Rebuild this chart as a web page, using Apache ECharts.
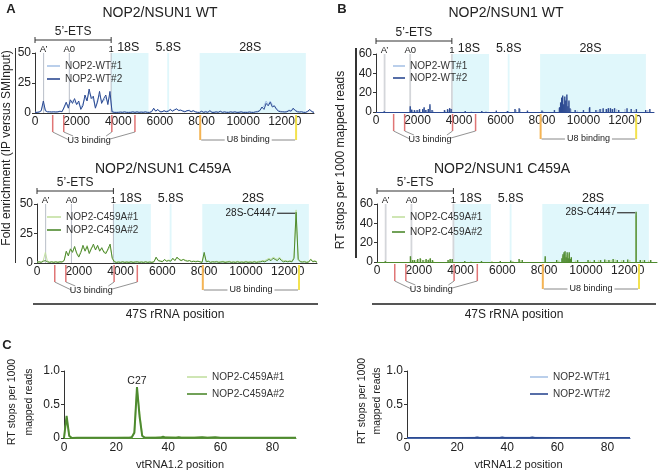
<!DOCTYPE html>
<html><head><meta charset="utf-8">
<script src="https://cdn.jsdelivr.net/npm/echarts@6/dist/echarts.min.js"></script>
<style>html,body{margin:0;padding:0;background:#fff}#wrap{position:relative;width:661px;height:472px}#c{width:661px;height:472px}
.bar{position:absolute;pointer-events:none}</style>
</head><body><div id="wrap"><div id="c"></div>
<div class="bar" style="left:14.5px;top:48px;width:1.5px;height:215px;background:#333"></div>
<div class="bar" style="left:355px;top:48px;width:1.5px;height:210px;background:#333"></div>
<div class="bar" style="left:33px;top:303px;width:285px;height:2px;background:#555"></div>
<div class="bar" style="left:372px;top:303px;width:284px;height:2px;background:#555"></div>
</div>
<script>
const FONT = "'Liberation Sans', Arial, sans-serif";

// ---- 47S rRNA fold enrichment (values every 100 nt, position 0..13400) ----
const rrnaStep = 100;
const wtFold1 = [0.6,0.7,1,1.5,8,1.5,1,0.8,1,0.8, 1,0.8,1.2,1.5,4,8,6,9,10,9, 8,8,4,8,12,11,17,14,11,5, 11,15,10,10,13,9,15,1.5,0.8,0.6,
  0.8,0.6,1,0.6,0.8,0.6,1,0.6,0.8,0.6, 0.8,0.6,1,0.6,0.8,0.6,1.5,3,2,2.5, 1.5,1,1.5,1.5,2,2.5,2,3,3,2.5, 2,2,1.5,1.5,2.5,1.5,1.5,1,0.8,0.6,
  1,0.8,1.5,0.8,1.5,0.8,0.8,0.6,1,1, 0.8,0.6,1,0.8,0.6,1,0.8,0.6,1,0.8, 0.6,0.8,0.6,1,0.8,0.6,0.8,1.5,2.5,4, 6,10,7,10,7,5,4,2,1.5,1,
  1,1.5,2.5,2,3,2.5,1.5,1,1.2,0.8, 0.6,1,2,1.5,0.6];
const wtFold2 = [0.5,0.5,0.8,2,10,2,1,1,0.8,1, 0.8,1,1.5,1,5,9,4,11,8,12, 7,10,3,6,15,10,20,12,14,4, 9,18,8,12,15,7,18,1,0.5,0.5,
  0.5,0.8,0.5,1,0.5,0.5,0.5,1,0.5,1, 0.5,0.8,0.5,1,0.5,0.5,1,4,1.5,3, 1,1,2,1,1.5,3,1.5,2.5,3.5,2, 2.5,1.5,1,2,2,1,2,1,0.5,0.5,
  1.5,0.5,1,0.5,2,0.5,0.5,1,0.5,1.5, 0.5,1,0.5,0.5,1,0.5,1,0.5,0.5,1, 0.5,0.5,0.5,0.8,0.5,0.5,1,1,2,5, 3,8,6,9,5,6,3,1.5,1,1,
  0.8,1,2,1.5,4,2,1,0.8,1,0.5, 0.5,1.5,3,1,0.5];
const mutFold1 = [0.8,1,1,2,9,1.5,1,0.8,1,0.8, 1,0.8,1,2.5,9,7,11,10,13,9, 6,10,13,11,15,9,13,14,12,14, 11,12,10,9,11,14,5,1.5,0.8,1,
  0.8,1,0.8,1,0.8,1,0.8,1,0.8,1, 1,0.8,1,0.8,1,0.8,1.5,4,2.5,2, 1.5,2.5,2,2.5,2,3.5,2.5,4,3.5,2.5, 3,2.5,2,2,1.5,1.5,1.5,1.5,1,0.8,
  7,1.5,1.5,1,1,1,1.5,1,1,1.5, 1,1,1.5,1,1,1,1.5,1,1,1, 1.5,1,1,1,1.5,1,1.5,1.5,2,2, 3,4,3,5,4,3,5,3,2,2,
  1.5,2,1.5,5,45,4,1.5,1,1.5,1, 1,3.5,1.5,2,1];
const mutFold2 = [0.5,1,0.5,1.5,2,1,0.5,1,0.5,1, 0.5,1,0.8,2,10,6,12,9,14,8, 5,9,15,10,14,8,12,16,11,15, 10,13,9,8,12,16,4,1,0.5,0.8,
  0.5,1,0.5,0.8,0.5,1,0.5,0.8,1,0.5, 0.8,0.5,1,0.5,0.8,0.5,1,5,2,1.5, 1,3,1.5,2,1.5,4,2,5,3,2, 3,2,1.5,2,1,1.5,1,1.5,1,0.5,
  9,1,1.5,0.5,1,0.8,1,0.5,0.8,1, 0.5,0.8,1,0.5,0.8,0.5,1,0.5,0.8,0.5, 1,0.5,0.8,0.5,1,0.5,0.8,1,1.5,1, 2,3,2,4,3,2,4,2,1,1.5,
  1,1.5,1,4,43,3,1,0.8,1,0.5, 0.8,3,1,1.5,0.5];

// ---- RT stops per 1000 mapped reads (spikes) ----
const wtStopPos2 = [400,1650,1720,1850,1980,2100,2250,2320,2400,2520,2600,2700,3300,3450,3550,3620,4300,5100,5800,6350,6700,6900,7300,8000,8600,8850,8900,8950,9000,9050,9100,9150,9200,9250,9300,9350,9600,10000,10300,10600,10800,10950,11100,11200,11300,11400,11500,11700,12100,12300,12550,13000,13200];
const wtStopVal2 = [0.8,6,2.5,2,2,3,3,5,2,3,8,2,2,3,4,3,1,1,1.5,1,3,4,1.5,1.5,2,5,10,15,17,8,16,12,18,6,12,4,2,2,5,2,3,4,3,4,4,3,4,2,4,3,3,2,3];
const wtStopPos1 = [400,1650,1750,1900,2050,2300,2450,2600,2750,3350,3500,3650,4600,5300,6300,6750,6950,8050,8800,8900,8950,9000,9100,9150,9200,9300,9400,9700,10250,10700,10900,11150,11350,11600,12000,12450,13100];
const wtStopVal1 = [1,4,2,1.5,2,4,2,6,1.5,1.5,2,3,1,1,1,2,3,1,4,8,12,14,13,9,15,10,3,1.5,4,2,3,3,3,3,3,2,2];
const mutStopPos2 = [400,1600,1700,1800,1950,2070,2200,2350,2450,2550,2650,3400,3500,3600,4200,5000,5900,6400,6800,6950,8050,8600,8850,8900,8950,9000,9050,9100,9150,9200,9250,9300,9600,10100,10400,10700,10900,11100,11300,11500,11800,12000,12400,12600,12800,13100];
const mutStopVal2 = [0.8,6,2,2,3,4,2,3,2,4,2,2,3,3,1,1,1,1.5,3,2,6,2,4,8,10,11,5,10,4,10,3,5,2,2,2,2,2.5,2,3,2,2,2.5,52,2,2,2];
const mutStopPos1 = [400,1620,1750,1900,2100,2300,2500,2700,3450,3600,4500,5500,6500,6850,8050,8700,8880,8980,9080,9180,9280,9500,10200,10600,11000,11200,11400,11700,12100,12400,12700,13000];
const mutStopVal1 = [1,4,2,2,3,2,3,1.5,2,2,1,1,1,2,4,1.5,6,8,7,8,4,1.5,1.5,2,2,2,2.5,2,2,48,2,1.5];

// ---- vtRNA1.2 RT stops ----
const vtMutPos2 = [0,1,2,3,5,10,15,20,25,26,27,28,29,30,31,35,37,38,39,43,44,45,50,53,55,58,60,70,80,89];
const vtMutVal2 = [0,0.33,0.03,0,0.005,0.003,0.005,0.004,0.005,0.01,0.08,0.76,0.32,0.03,0.005,0.005,0.006,0.018,0.006,0.005,0.012,0.005,0.004,0.012,0.005,0.01,0.004,0.003,0.003,0.003];
const vtMutPos1 = [0,1,2,3,10,20,26,27,28,29,30,31,38,44,53,60,70,80,89];
const vtMutVal1 = [0,0.3,0.04,0.004,0.004,0.004,0.01,0.1,0.72,0.36,0.04,0.006,0.012,0.01,0.01,0.004,0.004,0.003,0.003];
const vtWtPos2 = [0,10,20,27,28,29,37,38,39,49,50,51,60,70,80,89];
const vtWtVal2 = [0.003,0.003,0.004,0.004,0.012,0.004,0.004,0.01,0.004,0.004,0.012,0.004,0.003,0.003,0.003,0.003];
const vtWtPos1 = [0,10,20,28,38,50,60,70,80,89];
const vtWtVal1 = [0.004,0.004,0.004,0.008,0.008,0.008,0.004,0.004,0.004,0.004];

// ---- tick values ----
const foldTicks = [0,25,50];
const stopTicks = [0,20,40,60];
const vtTicks = [0,0.5,1];

// ---- annotations (47S coordinates) ----
const etsEnd = 3657;
const siteNames = ['A\u2019','A0','1'];
const sitePos = [414,1648,3657];
const regionNames = ['18S','5.8S','28S'];
const regionStart = [3657,6350,7910];
const regionEnd = [5450,6440,13010];
const regionLabelPos = [4480,6400,10340];
const u3Pos = [850,1380,3690,4800];
const u3LabelPos = 2600;
const u8Pos = [7935,12540];
const u8LabelPos = 10240;
const c4447Pos = 12400;

const C = {wt1:'#a9c3e6', wt2:'#2c4a92', mut1:'#c3e0a2', mut2:'#4e8a2f', wtB1:'#b9c9de', shade:'rgba(160,232,242,0.33)'};

const chart = echarts.init(document.getElementById('c'), null, {renderer:'canvas', width:661, height:472});
const lineData = vals => vals.map((v,i)=>[i*rrnaStep, v]);
const pairData = (pos, vals) => pos.map((p,i)=>[p, vals[i]]);
const shadeArea = {silent:true, itemStyle:{color:C.shade}, data: regionStart.map((s,k)=>[{xAxis:s},{xAxis:regionEnd[k]}])};

const grids = [
  {left:35, top:53, width:279, height:60},
  {left:37, top:204, width:280, height:59},
  {left:376, top:54, width:278, height:58},
  {left:377, top:204, width:280, height:58},
  {left:64, top:371, width:232, height:67},
  {left:407, top:371, width:223, height:67}
];
function rrnaX(i, axisColor){ return {type:'value', gridIndex:i, min:0, max:13400, interval:2000,
  axisLine:{lineStyle:{color:axisColor||'#333'}}, axisTick:{show:false}, splitLine:{show:false},
  axisLabel:{fontSize:12, margin:3, color:'#222', fontFamily:FONT, formatter:v=> (v%2000===0? String(v):'')}}; }
function yAx(i, ticks, fmt){ const max = ticks[ticks.length-1]; const a = {type:'value', gridIndex:i, min:0, max, interval:ticks[1],
  axisLine:{show:true, lineStyle:{color:'#333'}}, axisTick:{show:true, length:3, lineStyle:{color:'#333'}}, splitLine:{show:false},
  axisLabel:{show:true, fontSize:12, margin:4, color:'#222', fontFamily:FONT}};
  if (fmt) a.axisLabel.formatter = fmt; return a; }
function vtX(i, axisColor){ return {type:'value', gridIndex:i, min:0, max:89, interval:20,
  axisLine:{lineStyle:{color:axisColor}}, axisTick:{show:false}, splitLine:{show:false},
  axisLabel:{fontSize:12, margin:4, color:'#222', fontFamily:FONT, formatter:v=> (v%20===0? String(v):'')},
  name:'vtRNA1.2 position', nameLocation:'middle', nameGap:21, nameTextStyle:{fontSize:11, fontFamily:FONT, color:'#222'}}; }

const ln = (name, x, data, color, w, extra) => Object.assign({type:'line', name, xAxisIndex:x, yAxisIndex:x, data, symbol:'none',
  color, lineStyle:{color, width:w}, animation:false}, extra||{});
const br = (name, x, data, color, extra) => Object.assign({type:'bar', name, xAxisIndex:x, yAxisIndex:x, data, barWidth:1.4, barGap:'-100%',
  color, itemStyle:{color}, animation:false}, extra||{});

const legendBase = {orient:'vertical', itemHeight:1.6, selectedMode:false, textStyle:{fontSize:10, fontFamily:FONT, color:'#333'}};
const lg = (names, left, top, w, gap) => Object.assign({}, legendBase, {data:names.map(n=>({name:n, icon:'rect'})), left, top, itemWidth:w, itemGap:gap});
const vtFmt = v => v===0 ? '0' : v.toFixed(1);

chart.setOption({
  animation:false,
  grid: grids,
  xAxis: [rrnaX(0), rrnaX(1), rrnaX(2, C.wt2), rrnaX(3, C.mut2), vtX(4, C.mut2), vtX(5, C.wt2)],
  yAxis: [yAx(0,foldTicks), yAx(1,foldTicks), yAx(2,stopTicks), yAx(3,stopTicks), yAx(4,vtTicks,vtFmt), yAx(5,vtTicks,vtFmt)],
  legend: [
    lg(['NOP2-WT#1','NOP2-WT#2'], 42, 56, 13, 3),
    lg(['NOP2-C459A#1','NOP2-C459A#2'], 42, 207, 14, 3),
    lg(['NOP2-WT#1','NOP2-WT#2'], 388, 56, 12, 2),
    lg(['NOP2-C459A#1','NOP2-C459A#2'], 387, 207, 13, 5),
    lg(['NOP2-C459A#1','NOP2-C459A#2'], 182, 367, 20, 7),
    lg(['NOP2-WT#1','NOP2-WT#2'], 525, 367, 18, 7)
  ],
  series: [
    ln('NOP2-WT#1', 0, lineData(wtFold1), C.wt1, 1, {markArea:shadeArea}),
    ln('NOP2-WT#2', 0, lineData(wtFold2), C.wt2, 1),
    ln('NOP2-C459A#1', 1, lineData(mutFold1), C.mut1, 1, {markArea:shadeArea}),
    ln('NOP2-C459A#2', 1, lineData(mutFold2), C.mut2, 1),
    br('NOP2-WT#1', 2, pairData(wtStopPos1, wtStopVal1), C.wtB1, {markArea:shadeArea}),
    br('NOP2-WT#2', 2, pairData(wtStopPos2, wtStopVal2), C.wt2),
    br('NOP2-C459A#1', 3, pairData(mutStopPos1, mutStopVal1), C.mut1, {markArea:shadeArea}),
    br('NOP2-C459A#2', 3, pairData(mutStopPos2, mutStopVal2), C.mut2),
    ln('NOP2-C459A#1', 4, pairData(vtMutPos1, vtMutVal1), C.mut1, 1.6),
    ln('NOP2-C459A#2', 4, pairData(vtMutPos2, vtMutVal2), C.mut2, 2),
    ln('NOP2-WT#1', 5, pairData(vtWtPos1, vtWtVal1), C.wt1, 1.6),
    ln('NOP2-WT#2', 5, pairData(vtWtPos2, vtWtVal2), C.wt2, 1.6)
  ]
});

// ---- annotations positioned through the axes ----
const G = [];
function L(x1,y1,x2,y2,stroke,w,z){ G.push({type:'line', z:z||10, silent:true, shape:{x1,y1,x2,y2}, style:{stroke, lineWidth:w}}); }
function T(x,y,text,size,o){ o=o||{}; const st = {text, fontSize:size, fontFamily:FONT, fontWeight:o.bold?'bold':'normal', fill:o.fill||'#222',
    align:o.align||'center', textAlign:o.align||'center', verticalAlign:'middle', textVerticalAlign:'middle'};
  if (o.lh) st.lineHeight = o.lh; if (o.bg) { st.backgroundColor = o.bg; st.padding = o.pad; }
  G.push({type:'text', z:11, silent:true, x, y, rotation:o.rot||0, style:st}); }

const peakVal = [null, mutFold2[c4447Pos/rrnaStep], null, mutStopVal2[mutStopPos2.indexOf(c4447Pos)]];
for (let i=0;i<4;i++){
  const ymax = i<2?foldTicks[foldTicks.length-1]:stopTicks[stopTicks.length-1];
  const P = (x,y)=>chart.convertToPixel({xAxisIndex:i, yAxisIndex:i},[x,y]);
  const x0 = P(0,0)[0], y0 = P(0,0)[1], top = P(0,ymax)[1], xe = P(etsEnd,0)[0];
  L(x0, top-13, xe, top-13, '#333', 1); L(x0, top-16, x0, top-10, '#333', 1); L(xe, top-16, xe, top-10, '#333', 1);
  T((x0+xe)/2, top-21, '5\u2019-ETS', 12);
  sitePos.forEach((p,k)=>{ const x=P(p,0)[0]; L(x, y0, x, top, i<2?'#b9bec8':'#d4d6da', i<2?1:1.8, 1); T(x, top-4, siteNames[k], 9.5); });
  regionNames.forEach((n,k)=>T(P(regionLabelPos[k],0)[0], top-5, n, 12.5));
  const u3x = u3Pos.map(p=>P(p,0)[0]);
  u3x.forEach(x=>L(x, y0+2, x, y0+19, '#e07575', 1.5));
  const lx = P(u3LabelPos,0)[0], ly = y0+28;
  L(u3x[0], y0+19, lx-20, ly-1, '#777', 0.8); L(u3x[1], y0+19, lx-16, ly-5, '#777', 0.8);
  L(u3x[2], y0+19, lx+17, ly-5, '#777', 0.8); L(u3x[3], y0+19, lx+21, ly-2, '#777', 0.8);
  T(lx, ly, 'U3 binding', 9);
  const ox = P(u8Pos[0],0)[0], yx = P(u8Pos[1],0)[0];
  L(ox, y0+2, ox, y0+27, '#f4b454', 2); L(yx, y0+2, yx, y0+27, '#f3e24c', 2);
  L(ox+1, y0+27, yx-1, y0+27, '#888', 1);
  T(P(u8LabelPos,0)[0], y0+27, 'U8 binding', 9, {bg:'#fff', pad:[0,2]});
  if (peakVal[i] != null){
    const pk = P(c4447Pos, peakVal[i]);
    L(pk[0]-19, pk[1]+1, pk[0]-1, pk[1]+1, '#333', 1.2);
    T(pk[0]-20, pk[1]+1, '28S-C4447', 10, {align:'right'});
  }
}
const c27 = chart.convertToPixel({xAxisIndex:4, yAxisIndex:4}, [28, Math.max(...vtMutVal2)]);
T(c27[0], c27[1]-6, 'C27', 10.5);

T(11, 9, 'A', 13, {bold:true}); T(342, 9, 'B', 13, {bold:true}); T(7, 345, 'C', 13, {bold:true});
T(160, 13, 'NOP2/NSUN1 WT', 14); T(506, 13, 'NOP2/NSUN1 WT', 14);
T(163, 169, 'NOP2/NSUN1 C459A', 14); T(502, 169, 'NOP2/NSUN1 C459A', 14);
T(7, 148, 'Fold enrichment (IP versus SMInput)', 12, {rot:Math.PI/2});
T(341, 160, 'RT stops per 1000 mapped reads', 12, {rot:Math.PI/2});
T(175, 315, '47S rRNA position', 12);
T(514, 315, '47S rRNA position', 12);
T(21, 402, 'RT stops per 1000\nmapped reads', 10.5, {rot:Math.PI/2, lh:17});
T(370, 401, 'RT stops per 1000\nmapped reads', 10.5, {rot:Math.PI/2, lh:15});

chart.setOption({graphic:{elements:G}});
</script></body></html>
